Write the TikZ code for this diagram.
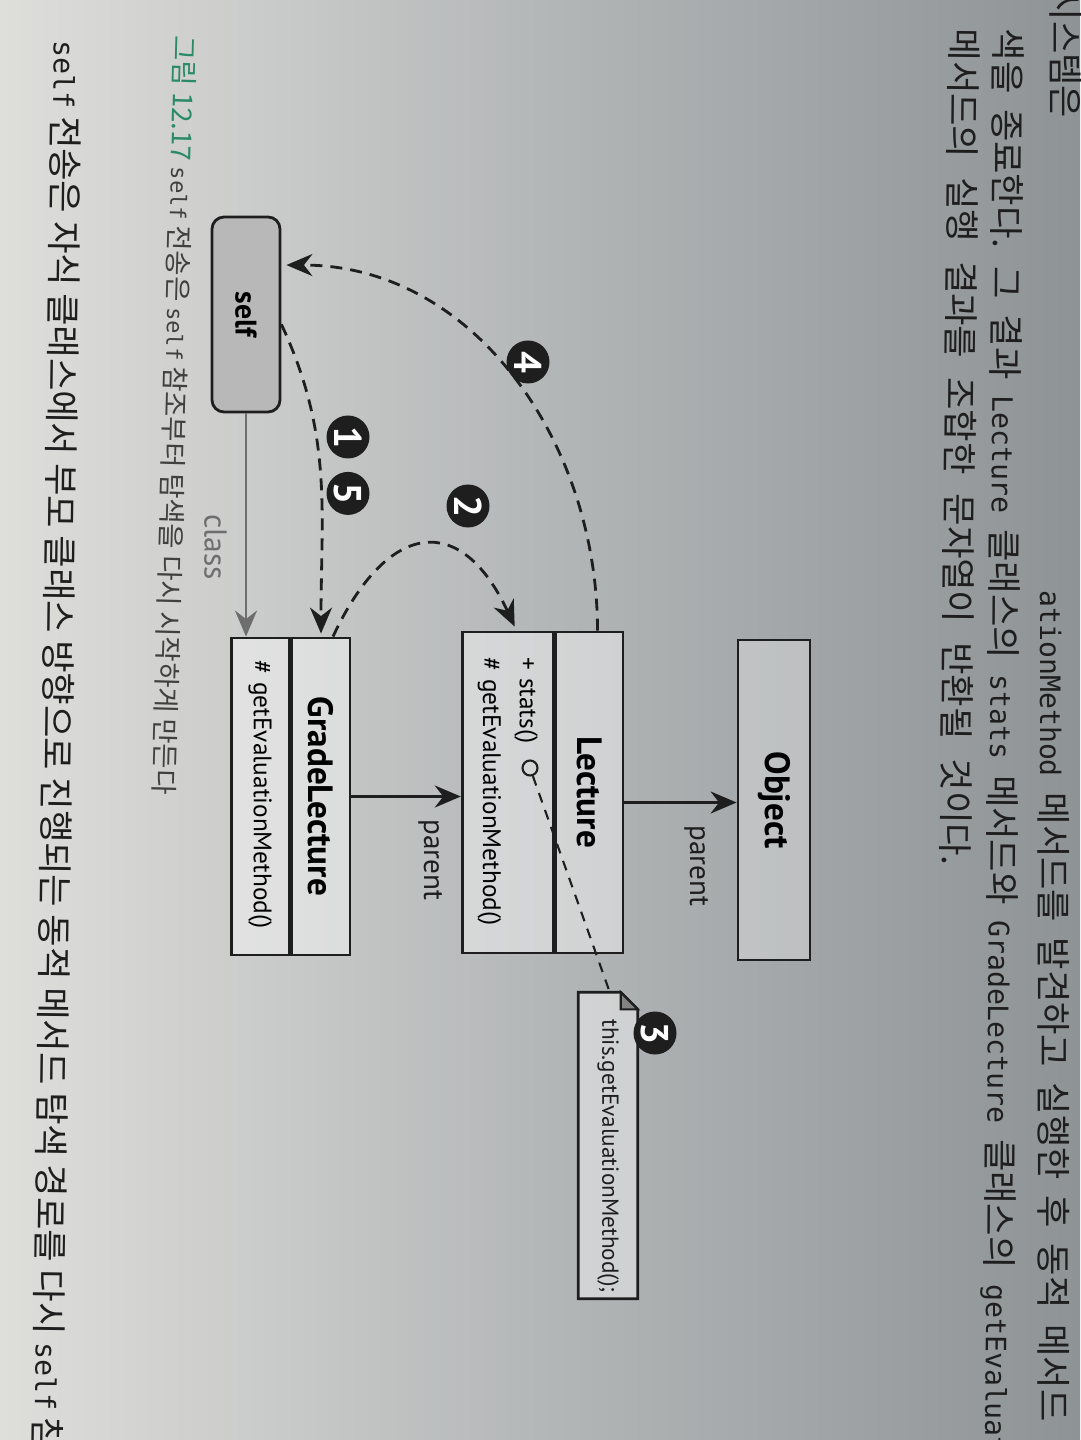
\documentclass[tikz,border=0pt]{standalone}
\usepackage{fontspec}
\setsansfont{PT Sans}
\setmonofont{DejaVu Sans Mono}[Scale=0.8]
\newfontfamily\kr{Noto Sans CJK KR}
\usepackage{tikz}
\usetikzlibrary{shapes,arrows.meta,calc,positioning}
\definecolor{paperlight}{HTML}{DEDEDB}
\definecolor{papermid}{HTML}{B4B7B8}
\definecolor{paperdark}{HTML}{8E9396}
\definecolor{ink}{HTML}{1E1E1E}
\definecolor{classgray}{HTML}{6E6E6E}
\definecolor{figgreen}{HTML}{2B8A68}
\newcommand{\code}[1]{{\ttfamily #1}}
\newcommand{\widesp}{\spaceskip=0.45em\relax}
\tikzset{klass/.style={draw=ink, thick, fill=white, fill opacity=0.42, text opacity=1, inner sep=0pt}}
\tikzset{kname/.style={klass, font=\sffamily\fontsize{10}{12}\selectfont\bfseries}}
\tikzset{kops/.style={klass, font=\sffamily\fontsize{7.2}{10.5}\selectfont, align=left}}
\tikzset{line/.style={draw=ink, thick, -{Stealth[length=2.6mm,width=2.2mm]}}}
\tikzset{classline/.style={draw=classgray, thick, -{Stealth[length=2.6mm,width=2.2mm]}}}
\tikzset{call/.style={draw=ink, thick, dash pattern=on 1.2mm off 0.8mm, -{Stealth[length=2.6mm,width=2.2mm]}}}
\tikzset{badge/.style={circle, fill=ink, text=white, inner sep=0pt, minimum size=4.3mm, font=\sffamily\fontsize{11}{11}\selectfont\bfseries}}
\tikzset{bodytext/.style={anchor=base west, inner sep=0pt, text=ink, font=\kr\fontsize{10}{10}\selectfont}}
\tikzset{captext/.style={anchor=base west, inner sep=0pt, text=ink!85, font=\kr\fontsize{7.8}{8}\selectfont}}
\tikzset{label/.style={font=\sffamily\fontsize{8.3}{10}\selectfont, text=ink}}

\begin{document}
\begin{tikzpicture}[x=0.1mm, y=0.1mm]
    \useasboundingbox (0,0) rectangle (1080,-1440);
    \shade [left color=paperlight, right color=paperdark, middle color=papermid] (0,0) rectangle (1080,-1440);
    \begin{scope}[rotate=-90, transform shape]
        \clip (0,0) rectangle (1440,1080);
        % page text
        \node [bodytext]              (line1a)   at (-12,1052)  {시스템은};
        \node [bodytext]              (line1b)   at (590,1040)  {\widesp\code{ationMethod} 메서드를 발견하고 실행한 후 동적 메서드 탐};
        \node [bodytext, rotate=-0.4] (line2)    at (28,995)    {\widesp 색을 종료한다. 그 결과 \code{Lecture} 클래스의 \code{stats} 메서드와 \code{GradeLecture} 클래스의 \code{getEvaluationMethod}};
        \node [bodytext, rotate=-0.6] (line3)    at (28,951)    {\spaceskip=0.55em\relax 메서드의 실행 결과를 조합한 문자열이 반환될 것이다.};
        \node [captext, rotate=-1.6]  (caption)  at (35,175)    {\textcolor{figgreen}{그림 12.17} \code{self} 전송은 \code{self} 참조부터 탐색을 다시 시작하게 만든다};
        \node [bodytext, rotate=-0.8] (line4)    at (40,54)     {\code{self} 전송은 자식 클래스에서 부모 클래스 방향으로 진행되는 동적 메서드 탐색 경로를 다시 \code{self} 참조부터};
        %
        \node [klass, rounded corners=1.2mm, fill=black!28, fill opacity=1, minimum width=19.5mm, minimum height=6.8mm, font=\sffamily\fontsize{8.5}{10}\selectfont\bfseries] (self) at (314.5,246) {self};
        \node [kname, minimum width=31.7mm, minimum height=5.8mm]                                     (gradetitle)   at (796.5,321)  {GradeLecture};
        \node [kops, below=0pt of gradetitle, inner xsep=2.2mm, text width=27.3mm, minimum height=5.8mm] (gradeops)    {\# getEvaluationMethod()};
        \node [kname, minimum width=32.1mm, minimum height=6.7mm]                                     (lecturetitle) at (792.5,589.5) {Lecture};
        \node [kops, below=0pt of lecturetitle, inner xsep=2.5mm, text width=27.1mm, minimum height=9.1mm] (lectureops) {+ stats()\\\# getEvaluationMethod()};
        \node [kname, fill opacity=0.3, minimum width=32mm, minimum height=7.2mm]                      (object)       at (800,774)    {Object};
        \node [draw=ink, semithick, circle, minimum size=1.5mm, inner sep=0pt]                         (statsdot)     at (768,530)    {};
        %
        \node [minimum width=30.5mm, minimum height=5.8mm, inner sep=0pt]                              (note)         at (1145.5,608) {};
        \path [draw=ink, thick, fill=white, fill opacity=0.42] (note.south west) -- ($(note.north west)+(0,-17)$) -- ($(note.north west)+(17,0)$) -- (note.north east) -- (note.south east) -- cycle;
        \path [draw=ink, semithick, fill=ink!55] ($(note.north west)+(0,-17)$) -- ($(note.north west)+(17,-17)$) -- ($(note.north west)+(17,0)$) -- cycle;
        \node [label, font=\sffamily\fontsize{6.6}{8}\selectfont, xshift=3]                            (notetext)     at (note)       {this.getEvaluationMethod();};
        %
        \coordinate (lecturetop) at ($(lecturetitle.north)+(10,0)$);
        \path [classline] (self.east) -- (self.east -| gradeops.west) node [pos=0.6, below=0.6mm, label, font=\sffamily\fontsize{9}{10}\selectfont, text=classgray] (classlabel) {class};
        \path [line] (gradetitle.north) -- (gradetitle.north |- lectureops.south) node [pos=0.72, right=1mm, label] (parent1) {parent};
        \path [line] (lecturetop) -- (lecturetop |- object.south) node [pos=0.64, right=1mm, label] (parent2) {parent};
        %
        \path [call] ($(self.north west)!0.55!(self.north east)$) to [out=25, in=180] ($(gradetitle.west)+(-3,0)$);
        \path [call] ($(gradetitle.west)+(0,12)$) to [out=155, in=205, looseness=1.8] ($(lectureops.west)+(-4,7)$);
        \path [call] ($(lecturetitle.west)+(0,8)$) to [out=180, in=90] ($(self.north west)!0.25!(self.north east)+(0,5)$);
        \path [draw=ink, semithick, dash pattern=on 1mm off 0.8mm] (statsdot) -- ($(note.north west)!0.47!(note.south west)$);
        %
        \node [badge] (b4) at (362,528)  {4};
        \node [badge] (b1) at (437,348)  {1};
        \node [badge, right=1.2mm of b1] (b5) {5};
        \node [badge] (b2) at (506,468)  {2};
        \node [badge] (b3) at (1033,655) {3};
    \end{scope}
\end{tikzpicture}
\end{document}
